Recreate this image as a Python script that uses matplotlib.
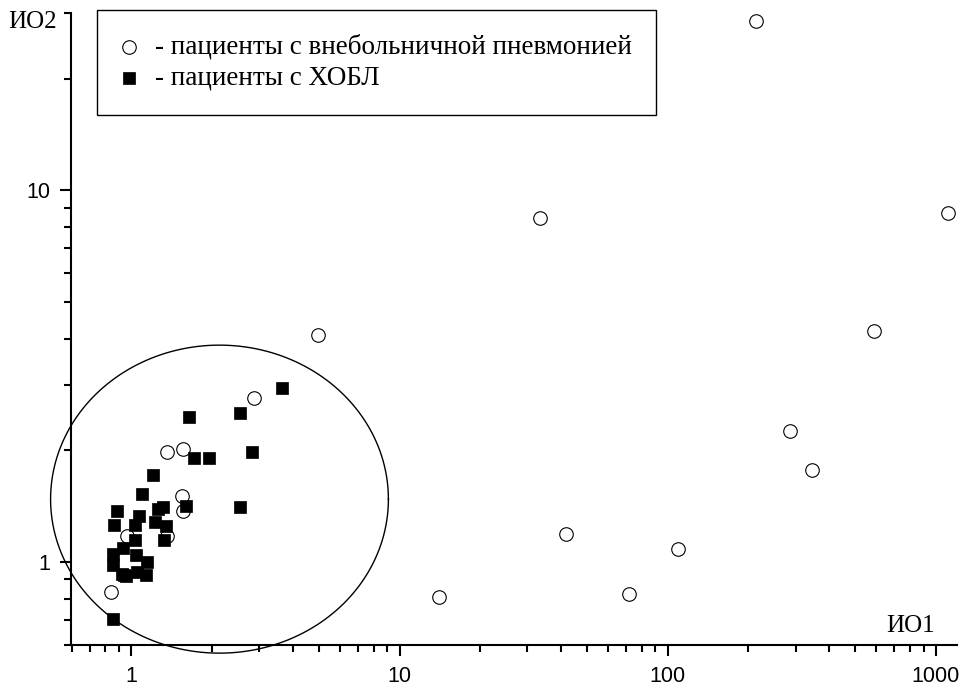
"""Scatter of two index values (log-log) for two patient groups."""

import matplotlib

matplotlib.use("Agg")
import matplotlib.pyplot as plt
import numpy as np
from matplotlib.ticker import FixedLocator, LogLocator, NullFormatter

# --- data ---
# patients with community-acquired pneumonia (open circles)
pneumonia_x = [212.7, 33.3, 1115, 4.95, 586, 2.86, 287, 344, 41.6, 108.9, 14.0, 71.5,
               1.36, 1.557, 1.55, 1.557, 0.96, 1.36, 0.842]
pneumonia_y = [28.5, 8.45, 8.71, 4.09, 4.19, 2.77, 2.26, 1.77, 1.19, 1.09, 0.807, 0.822,
               1.98, 2.02, 1.51, 1.377, 1.179, 1.179, 0.833]

# patients with COPD (filled squares)
copd_x = [3.63, 1.64, 2.53, 2.81, 1.712, 1.947, 1.204, 1.095, 0.887, 0.864, 1.065, 1.035,
          1.257, 1.311, 1.594, 2.54, 1.224, 1.342, 1.323, 1.029, 0.928, 0.85, 1.044, 1.14,
          0.85, 0.938, 0.92, 0.955, 1.047, 1.133, 0.852]
copd_y = [2.94, 2.46, 2.52, 1.98, 1.905, 1.905, 1.718, 1.527, 1.377, 1.26, 1.33, 1.26,
          1.391, 1.411, 1.42, 1.406, 1.281, 1.25, 1.15, 1.15, 1.097, 1.057, 1.048, 1.004,
          0.985, 0.924, 0.93, 0.92, 0.943, 0.926, 0.704]

# outlined cluster (centre and radii in decades)
cluster_center = (2.13, 1.48)
cluster_radius_dec = (0.63, 0.414)

labels = ["- пациенты с внебольничной пневмонией", "- пациенты с ХОБЛ"]

SERIF = "Liberation Serif"
SANS = "Liberation Sans"

fig = plt.figure(figsize=(9.65, 6.85), dpi=100)
ax = fig.add_axes([71 / 965, 40 / 685, 886 / 965, 632 / 685])

ax.set_xscale("log")
ax.set_yscale("log")
ax.set_xlim(0.595, 1200)
ax.set_ylim(0.6, 30)

ax.scatter(pneumonia_x, pneumonia_y, s=95, marker="o", facecolors="white",
           edgecolors="black", linewidths=0.8, zorder=3, label=labels[0])
ax.scatter(copd_x, copd_y, s=80, marker="s", facecolors="black",
           edgecolors="black", linewidths=0.5, zorder=4, label=labels[1])

# ellipse around the cluster, drawn in log space
t = np.linspace(0, 2 * np.pi, 400)
cx, cy = np.log10(cluster_center[0]), np.log10(cluster_center[1])
rx, ry = cluster_radius_dec
ax.plot(10 ** (cx + rx * np.cos(t)), 10 ** (cy + ry * np.sin(t)),
        color="black", lw=1.0, clip_on=False, zorder=2)

for side in ("top", "right"):
    ax.spines[side].set_visible(False)
for side in ("left", "bottom"):
    ax.spines[side].set_linewidth(1.5)

ax.xaxis.set_major_locator(FixedLocator([1, 10, 100, 1000]))
ax.yaxis.set_major_locator(FixedLocator([1, 10]))
ax.xaxis.set_minor_locator(LogLocator(base=10, subs=np.arange(2, 10), numticks=20))
ax.yaxis.set_minor_locator(LogLocator(base=10, subs=np.arange(2, 10), numticks=20))
ax.set_xticklabels(["1", "10", "100", "1000"])
ax.set_yticklabels(["1", "10"])
ax.xaxis.set_minor_formatter(NullFormatter())
ax.yaxis.set_minor_formatter(NullFormatter())
ax.tick_params(which="major", length=8, width=1.5, labelsize=15.5, pad=7)
ax.tick_params(which="minor", length=5, width=1.5)
for lbl in ax.get_xticklabels() + ax.get_yticklabels():
    lbl.set_family(SANS)

ax.text(-0.016, 0.986, "ИО2", transform=ax.transAxes, ha="right", va="center",
        fontsize=18, family=SERIF)
ax.text(0.975, 0.012, "ИО1", transform=ax.transAxes, ha="right", va="bottom",
        fontsize=18, family=SERIF)

leg = ax.legend(loc="upper left", bbox_to_anchor=(0.0293, 1.005), borderaxespad=0,
                prop={"family": SERIF, "size": 19.5}, frameon=True, fancybox=False,
                edgecolor="black", framealpha=1, borderpad=0.9, handlelength=0.6,
                handletextpad=0.65, labelspacing=0.22, scatterpoints=1)
leg.get_frame().set_linewidth(1.0)

fig.savefig("out.png", dpi=100)
